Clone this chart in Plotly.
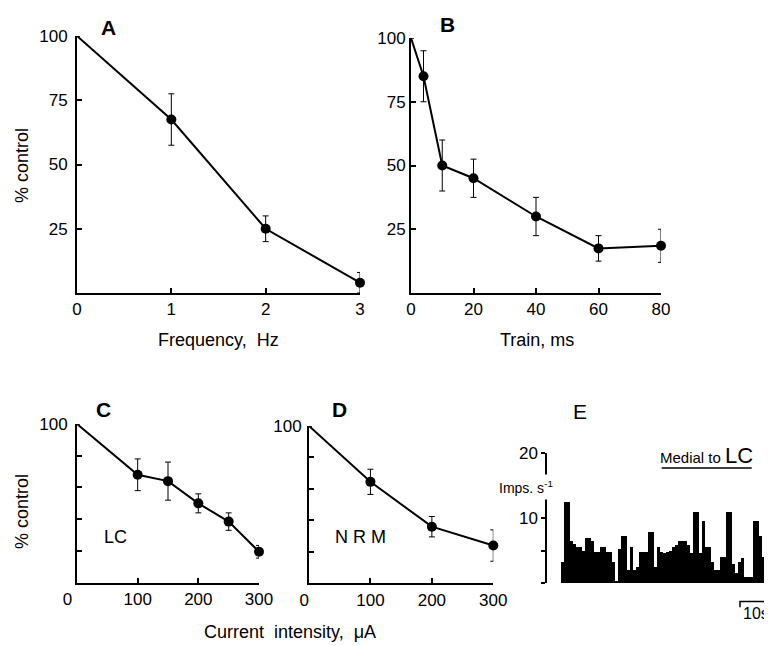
import numpy as np
import plotly.graph_objects as go

# The page body adds an 8 px margin at the top-left, so every reference pixel
# position is shifted by 8 px and the figure is sized to end at the window edge.
OFF = 8
W, H = 772 - OFF, 646 - OFF
FONT = "Liberation Sans, Arial, sans-serif"

# ---------------- data ----------------
A_freq = [0, 1, 2, 3]
A_pct = [100, 67.5, 25, 4]
A_err = [0, 10, 5, 4]

B_train = [0, 4, 10, 20, 40, 60, 80]
B_pct = [100, 85, 50, 45, 30, 17.5, 18.5]
B_err = [0, 10, 10, 7.5, 7.5, 5, 6.5]

C_current = [0, 100, 150, 200, 250, 300]
C_pct = [100, 68, 64, 50, 38.5, 19.5]
C_err = [0, 10, 12, 6, 5.5, 4]

D_current = [0, 100, 200, 300]
D_pct = [100, 64.5, 36, 24]
D_err = [0, 8, 6.5, 10]

E_rate = [3.2, 12.4, 12.4, 6.4, 6.0, 5.6, 5.6, 5.0, 7.0, 7.0, 6.4, 4.8, 4.8, 5.5,
          5.5, 4.8, 4.8, 3.2, 0.3, 5.3, 7.2, 7.2, 2.0, 5.6, 2.0, 2.5, 4.8, 4.8,
          4.8, 7.9, 7.9, 2.5, 5.6, 4.8, 4.6, 4.8, 5.0, 5.6, 5.8, 6.4, 6.4, 6.4,
          5.8, 4.6, 11.0, 11.0, 4.6, 9.5, 5.6, 5.6, 3.3, 2.0, 2.0, 4.0, 4.0,
          11.0, 11.0, 3.0, 1.5, 3.3, 3.8, 1.0, 1.0, 1.0, 9.5, 9.5, 7.2, 4.0,
          4.0, 4.3, 4.3]
E_bin_s = 0.9
E_time = list((np.arange(len(E_rate)) + 0.5) * E_bin_s)
E_stim = [30, 57]          # "Medial to LC" stimulation period, s
E_scale = [53.5, 63.5]     # 10 s scale bar

A_ticks = [0, 1, 2, 3]
B_ticks = [0, 20, 40, 60, 80]
pct_ticks = [25, 50, 75, 100]
CD_xticks = [0, 100, 200, 300]
CD_yticks = [20, 40, 60, 80, 100]
E_yticks = [0, 5, 10, 20]
E_yticklabels = ["", "", "10", "20"]


def px(x):
    return (x - OFF) / W


def py(y):
    return 1 - (y - OFF) / H


fig = go.Figure()


def curve(x, y, err, xa, ya):
    sizes = [0] + [10] * (len(x) - 1)
    fig.add_trace(go.Scatter(
        x=x, y=y, mode="lines+markers", xaxis=xa, yaxis=ya,
        line=dict(color="black", width=2),
        marker=dict(color="#000000", size=sizes, opacity=1,
                    line=dict(width=0)),
        error_y=dict(type="data", array=err, visible=True, color="black",
                     thickness=1, width=3),
        cliponaxis=False, hoverinfo="skip"))


curve(A_freq, A_pct, A_err, "x", "y")
curve(B_train, B_pct, B_err, "x2", "y2")
curve(C_current, C_pct, C_err, "x3", "y3")
curve(D_current, D_pct, D_err, "x4", "y4")

fig.add_trace(go.Bar(x=E_time, y=E_rate, width=E_bin_s, xaxis="x5", yaxis="y5",
                     marker=dict(color="black", line=dict(width=0)),
                     hoverinfo="skip"))
fig.add_trace(go.Scatter(x=E_stim, y=[17.7, 17.7], mode="lines", xaxis="x5",
                         yaxis="y5", line=dict(color="black", width=1.5),
                         hoverinfo="skip"))
fig.add_trace(go.Scatter(x=[E_scale[0], E_scale[0], E_scale[1]], y=[0.2, 0.6, 0.6],
                         mode="lines", xaxis="x6", yaxis="y6",
                         line=dict(color="black", width=1.5), hoverinfo="skip"))

tickfont = dict(family=FONT, size=17, color="black")
base_ax = dict(showline=True, linecolor="black", linewidth=2, ticks="inside",
               ticklen=5, tickwidth=1.5, tickcolor="black", showgrid=False,
               zeroline=False, tickfont=tickfont, fixedrange=True, automargin=False)
hidden_ax = dict(visible=False, fixedrange=True, automargin=False)

E_xrange = [-4.32, 63.1]

fig.update_layout(
    template="none",
    width=W, height=H, margin=dict(l=0, r=0, t=0, b=0, pad=0, autoexpand=False),
    paper_bgcolor="white", plot_bgcolor="rgba(0,0,0,0)", showlegend=False,
    bargap=0,
    xaxis=dict(base_ax, domain=[px(77), px(360)], range=[0, 3], tickvals=A_ticks,
               anchor="y"),
    yaxis=dict(base_ax, domain=[py(293), py(36)], range=[0, 100], tickvals=pct_ticks,
               anchor="x", ticklabelstandoff=4),
    xaxis2=dict(base_ax, domain=[px(411), px(661)], range=[0, 80], tickvals=B_ticks,
                anchor="y2"),
    yaxis2=dict(base_ax, domain=[py(293), py(38)], range=[0, 100], tickvals=pct_ticks,
                anchor="x2", ticklabelstandoff=0),
    xaxis3=dict(base_ax, domain=[px(77), px(259)], range=[0, 300], tickvals=CD_xticks,
                ticktext=["0\u2007\u2007", "100", "200", "300"], anchor="y3"),
    yaxis3=dict(base_ax, domain=[py(582.7), py(424)], range=[0, 100],
                tickvals=CD_yticks, ticktext=["", "", "", "", "100"], anchor="x3",
                ticklabelstandoff=4),
    xaxis4=dict(base_ax, domain=[px(309), px(493.3)], range=[0, 300],
                tickvals=CD_xticks, ticktext=["0\u2007", "100", "200", "300"],
                anchor="y4"),
    yaxis4=dict(base_ax, domain=[py(583.3), py(426)], range=[0, 100],
                tickvals=CD_yticks, ticktext=["", "", "", "", "100"], anchor="x4",
                ticklabelstandoff=2),
    xaxis5=dict(hidden_ax, domain=[px(547.3), 1], range=E_xrange, anchor="y5"),
    yaxis5=dict(base_ax, domain=[py(583), py(453)], range=[0, 20], tickvals=E_yticks,
                ticktext=E_yticklabels, ticks="outside", ticklen=4, anchor="x5"),
    xaxis6=dict(hidden_ax, domain=[px(547.3), 1], range=E_xrange, anchor="y6"),
    yaxis6=dict(hidden_ax, domain=[py(610), py(596)], range=[0, 1], anchor="x6"),
)


def ann(text, x, y, size=18, bold=False, angle=0, **kw):
    if bold:
        text = "<b>" + text + "</b>"
    fig.add_annotation(text=text, x=px(x), y=py(y), xref="paper", yref="paper",
                       xanchor="center", yanchor="middle",
                       showarrow=False, textangle=angle,
                       font=dict(family=FONT, size=size, color="black"), **kw)


ann("A", 109, 28, 21, bold=True)
ann("B", 447, 25, 21, bold=True)
ann("C", 103, 409, 21, bold=True)
ann("D", 339, 409, 21, bold=True)
ann("E", 580, 411, 21)
ann("% control", 22, 166, 18, angle=-90)
ann("% control", 22, 512, 18, angle=-90)
ann("Frequency,  Hz", 218, 340, 18)
ann("Train, ms", 537, 340, 18)
ann("Current  intensity,  μA", 290, 632, 18)
ann("LC", 115, 537, 18)
ann("N R M", 360, 537, 18)
ann("Medial to <span style='font-size:22px'>LC</span>", 706, 455, 15)
ann("Imps. s<sup>-1</sup>", 526, 487, 14, bgcolor="white", borderpad=3)
ann("10s", 756, 613, 16)

fig.write_html("out.html")
